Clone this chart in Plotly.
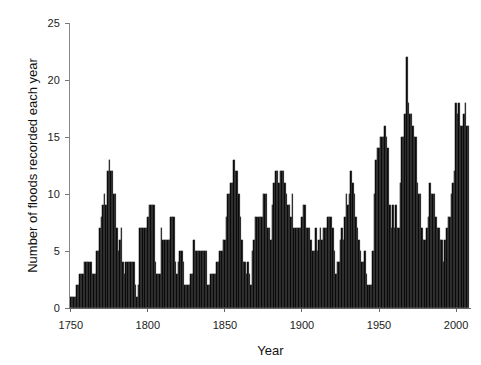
import plotly.graph_objects as go

# Year of each bar (1750 .. 2008)
years = list(range(1750, 2009))

# Number of floods recorded each year, read decade by decade
floods = [
    1, 1, 1, 1, 2, 2, 3, 3, 3, 4,        # 1750s
    4, 4, 4, 4, 3, 3, 3, 5, 5, 7,        # 1760s
    8, 9, 10, 9, 12, 13, 12, 12, 10, 10, # 1770s
    7, 5, 6, 7, 4, 3, 4, 4, 4, 4,        # 1780s
    4, 4, 2, 1, 2, 7, 7, 7, 7, 7,        # 1790s
    8, 9, 9, 9, 9, 4, 3, 3, 3, 7,        # 1800s
    6, 6, 6, 6, 6, 8, 8, 8, 4, 3,        # 1810s
    4, 5, 5, 4, 2, 2, 2, 2, 3, 3,        # 1820s
    6, 5, 5, 5, 5, 5, 5, 5, 5, 2,        # 1830s
    2, 3, 3, 3, 3, 4, 4, 5, 5, 6,        # 1840s
    6, 8, 10, 10, 11, 11, 13, 12, 12, 10,# 1850s
    8, 6, 4, 4, 3, 4, 3, 2, 5, 6,        # 1860s
    8, 8, 8, 8, 8, 10, 10, 10, 7, 7,     # 1870s
    6, 9, 11, 12, 12, 11, 12, 12, 12, 11,# 1880s
    10, 9, 9, 8, 10, 7, 7, 7, 7, 7,      # 1890s
    8, 9, 9, 7, 7, 7, 6, 5, 5, 7,        # 1900s
    5, 6, 7, 6, 7, 7, 7, 8, 8, 8,        # 1910s
    7, 5, 3, 4, 4, 6, 7, 6, 8, 10,       # 1920s
    9, 10, 12, 11, 10, 8, 7, 6, 5, 4,    # 1930s
    4, 5, 3, 2, 2, 2, 5, 10, 13, 14,     # 1940s
    14, 15, 15, 15, 16, 15, 14, 9, 7, 9, # 1950s
    7, 9, 7, 7, 11, 15, 15, 17, 22, 18,  # 1960s
    17, 17, 16, 15, 15, 11, 10, 10, 7, 6,# 1970s
    6, 7, 8, 11, 10, 10, 10, 8, 7, 7,    # 1980s
    6, 6, 4, 6, 7, 8, 8, 10, 11, 12,     # 1990s
    18, 17, 18, 16, 16, 17, 18, 16, 16,  # 2000s
]

x_ticks = [1750, 1800, 1850, 1900, 1950, 2000]
y_ticks = [0, 5, 10, 15, 20, 25]

x_title = "Year"
y_title = "Number of floods recorded each year"

fig = go.Figure(
    go.Bar(
        x=years,
        y=floods,
        width=1,
        marker=dict(color="#050505", line=dict(color="#4a4a4a", width=0.3)),
    )
)

font_family = "Liberation Sans, Arial, sans-serif"

fig.update_layout(
    width=481,
    height=365,
    margin=dict(l=70, r=10, t=23, b=53),
    paper_bgcolor="white",
    plot_bgcolor="white",
    bargap=0,
    showlegend=False,
    font=dict(family=font_family, size=11, color="#222"),
    xaxis=dict(
        range=[1749.5, 2009.7],
        tickvals=x_ticks,
        ticktext=[str(t) for t in x_ticks],
        ticks="outside",
        ticklen=3,
        tickcolor="#666",
        ticklabelstandoff=4,
        showline=True,
        linecolor="#666",
        linewidth=1,
        showgrid=False,
        zeroline=False,
        tickfont=dict(size=11, color="#222"),
        title=dict(text=x_title, font=dict(size=13, color="#111"), standoff=15),
    ),
    yaxis=dict(
        range=[0, 25],
        tickvals=y_ticks,
        ticks="outside",
        ticklen=4,
        tickcolor="#777",
        ticklabelstandoff=3,
        showline=True,
        linecolor="#888",
        linewidth=1,
        showgrid=False,
        zeroline=False,
        tickfont=dict(size=11, color="#222"),
        title=dict(text=y_title, font=dict(size=13, color="#111"), standoff=6),
    ),
)

fig.write_html(
    "out.html",
    config={"displayModeBar": False},
    post_script="document.body.style.margin='0';",
)
